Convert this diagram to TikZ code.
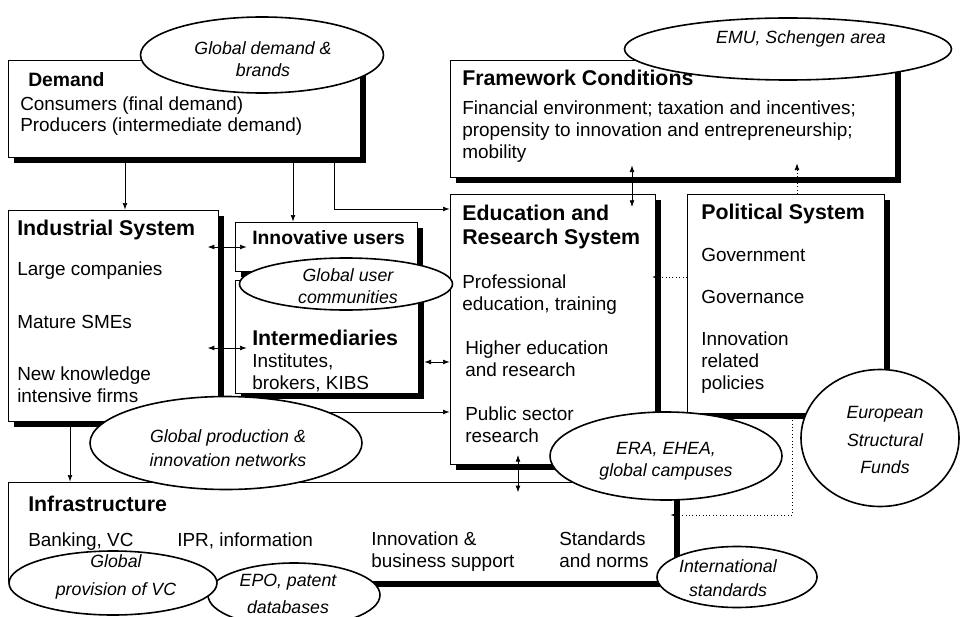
\documentclass[tikz,border=0pt]{standalone}
\usepackage{fontspec}
\setmainfont{Liberation Sans}
\usetikzlibrary{shapes.geometric,shadows,fit,arrows.meta}

\begin{document}
\begin{tikzpicture}[x=0.75pt,y=-0.75pt,
  >={Latex[length=5pt,width=3.6pt]},
  sysbox/.style={draw=black,line width=0.5pt,fill=white,inner sep=0pt,
    general shadow={fill=black,shadow xshift=4.2pt,shadow yshift=-4.2pt}},
  head/.style={anchor=base west,inner sep=0pt,align=left,
    font=\fontsize{16}{18}\selectfont\bfseries},
  smallhead/.style={head,font=\fontsize{14.5}{18}\selectfont\bfseries},
  item/.style={anchor=base west,inner sep=0pt,align=left,
    font=\fontsize{14.2}{16.5}\selectfont},
  blob/.style 2 args={ellipse,draw=black,line width=1.2pt,fill=white,inner sep=0pt,
    minimum width=#1*0.75pt,minimum height=#2*0.75pt},
  blobtext/.style={align=center,inner sep=0pt,
    font=\fontsize{13.3}{16.5}\selectfont\itshape},
  link/.style={line width=0.55pt},
  into/.style={shorten >=-#1},
  outof/.style={shorten <=-#1}]

\path[use as bounding box,fill=white] (0,0) rectangle (960,617);
\clip (0,0) rectangle (960,617);

% the boxes
\node[sysbox,fit={(8,60) (360,157)}] (dem) {};
\node[sysbox,fit={(450,60) (895,177)}] (fc) {};
\node[sysbox,fit={(8,210) (218,421)}] (ind) {};
\node[sysbox,fit={(235,222) (417,271)}] (usr) {};
\node[sysbox,fit={(235,280) (418,393)}] (itm) {};
\node[sysbox,fit={(450,194) (655,464)}] (edu) {};
\node[sysbox,fit={(687,194) (884,413)}] (pol) {};
\node[sysbox,fit={(8,482) (674,581)}] (inf) {};

% texts sit on the baseline of their last line
\node[smallhead] (demH) at (28,87) {Demand};
\node[item] (demT) at (20,132) {Consumers (final demand)\\Producers (intermediate demand)};

\node[head] (fcH) at (462,85) {Framework Conditions};
\node[item] (fcT) at (462,158) {Financial environment; taxation and incentives;\\
  propensity to innovation and entrepreneurship;\\mobility};

\node[head] (indH) at (17,235) {Industrial System};
\node[item] (ind1) at (17,275) {Large companies};
\node[item] (ind2) at (17,328) {Mature SMEs};
\node[item] (ind3) at (17,402) {New knowledge\\intensive firms};

\node[smallhead] (usrH) at (252,244) {Innovative users};
\node[head] (itmH) at (252,345) {Intermediaries};
\node[item] (itmT) at (252,389) {Institutes,\\brokers, KIBS};

\node[head] (eduH) at (462,244) {Education and\\Research System};
\node[item] (edu1) at (462,310) {Professional\\education, training};
\node[item] (edu2) at (465,376) {Higher education\\and research};
\node[item] (edu3) at (465,442) {Public sector\\research};

\node[head] (polH) at (701,219) {Political System};
\node[item] (pol1) at (701,261) {Government};
\node[item] (pol2) at (701,303) {Governance};
\node[item] (pol3) at (701,389) {Innovation\\related\\policies};

\node[head] (infH) at (28,511) {Infrastructure};
\node[item] (inf1) at (28,546) {Banking, VC};
\node[item] (inf2) at (177,546) {IPR, information};
\node[item] (inf3) at (371,567) {Innovation \&\\business support};
\node[item] (inf4) at (559,567) {Standards\\and norms};

% links between the systems
\draw[link,->] (dem.south -| 125,0) -- (ind.north -| 125,0);
\draw[link,->] (dem.south -| 293,0) -- (usr.north -| 293,0);
\draw[link,->] (dem.south -| 334,0) |- (edu.west |- 0,209);
\draw[link,<->,into=10pt,outof=9pt] (fc.south -| 632,0) -- (edu.north -| 632,0);
\draw[link,<->,into=9pt,outof=8pt] (ind.east |- 0,247) -- (usr.west |- 0,247);
\draw[link,<->,into=9pt,outof=8pt] (ind.east |- 0,348) -- (itm.west |- 0,348);
\draw[link,<->,shorten <=4.5pt] (itm.east |- 0,362) -- (edu.west |- 0,362);
\draw[link,->] (ind.east |- 0,412) -- (edu.west |- 0,412);
\draw[link,->] (ind.south -| 70,0) -- (inf.north -| 70,0);
\draw[link,<->,into=8pt,outof=7pt] (edu.south -| 518,0) -- (inf.north -| 518,0);
%\draw[link,->] (pol.south) -- (inf.north);
\draw[link,dotted,->,into=10.5pt] (pol.north -| 797,0) -- (fc.south -| 797,0);
\draw[link,dotted,->,into=2.5pt] (pol.west |- 0,277) -- (edu.east |- 0,277);
\draw[link,dotted,->,into=3pt] (pol.south -| 792,0) |- (inf.east |- 0,515);

% the international / European level
\node[blob={243}{76}] (dmdG) at (262,55) {};
\node[blobtext] (dmdT) at (263,59) {Global demand \&\\brands};
\node[blob={327}{62}] (emuG) at (788,49) {};
\node[blobtext] (emuT) at (801,39) {EMU, Schengen area};
\node[blob={213}{52}] (usrG) at (346,284) {};
\node[blobtext] (usrT) at (348,286) {Global user\\communities};
\node[blob={272}{93}] (gpnG) at (226,443) {};
\node[blobtext] (gpnT) at (228,448) {Global production \&\\[2pt]innovation networks};
\node[blob={232}{88}] (eraG) at (666,456) {};
\node[blobtext] (eraT) at (666,461) {ERA, EHEA,\\global campuses};
\node[blob={158}{137}] (efsG) at (880,438) {};
\node[blobtext] (efsT) at (885,440) {European\\[4pt]Structural\\[4pt]Funds};
\node[blob={160}{61}] (intG) at (737,577) {};
\node[blobtext] (intT) at (728,578) {International\\[2pt]standards};
\node[blob={172}{64}] (epoG) at (294,595) {};
\node[blobtext] (epoT) at (288,594) {EPO, patent\\[4pt]databases};
\node[blob={208}{64}] (gvcG) at (113,583) {};
\node[blobtext] (gvcT) at (116,577) {Global\\[4pt]provision of VC};

\end{tikzpicture}
\end{document}
